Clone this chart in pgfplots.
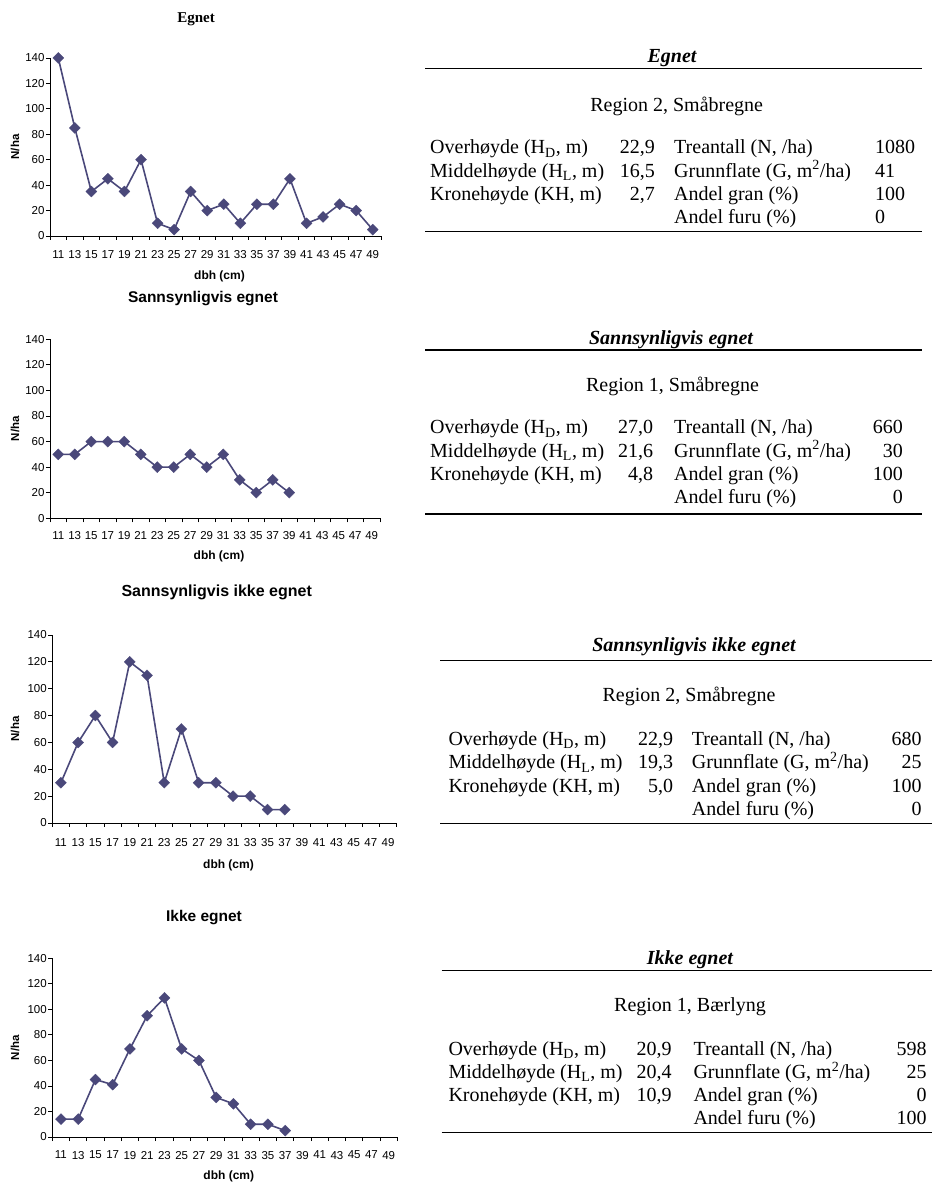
\documentclass[border=0pt]{standalone}
\usepackage{fontspec}
\setmainfont{Liberation Serif}
\newfontfamily\arial{Liberation Sans}
\usepackage{pgfplots}
\pgfplotsset{compat=1.18}
\definecolor{ser}{RGB}{74,72,122}

\pgfplotsset{
  dbhaxis/.style={
    scale only axis, axis lines=left,
    axis line style={-, line width=0.8pt, black},
    xmin=-0.5, xmax=19.5, ymin=0, ymax=140,
    xtick={0,...,19},
    xticklabels={11,13,15,17,19,21,23,25,27,29,31,33,35,37,39,41,43,45,47,49},
    minor xtick={-0.5,0.5,...,19.5},
    ytick={0,20,...,140},
    tick align=outside,
    major tick length=4pt, minor tick length=4pt,
    every tick/.style={black, line width=0.8pt},
    every major x tick/.append style={draw=none},
    /pgf/number format/assume math mode=true,
    tick label style={font=\arial\fontsize{11.5}{12}\selectfont, text=black},
    yticklabel style={xshift=2pt},
    xlabel={dbh (cm)}, ylabel={N/ha},
    xlabel style={font=\arial\bfseries\fontsize{12}{13}\selectfont, at={(axis description cs:0.5,0)}, anchor=center, xshift=4pt},
    ylabel style={font=\arial\bfseries\fontsize{11.5}{12}\selectfont, anchor=center, rotate=0},
    clip=false,
  },
  ser/.style={color=ser, line width=1.6pt, mark=square*, mark size=3.9pt,
    mark options={rotate=45, fill=ser, draw=ser, line width=0.3pt}},
}

\begin{document}
\begin{tikzpicture}[x=1pt,y=1pt]
\useasboundingbox (0,0) rectangle (932,1184);

% ---------- Panel 1 ----------
\begin{axis}[dbhaxis, at={(50pt,948pt)}, anchor=south west, width=331pt, height=178pt,
  xticklabel style={yshift=-7pt},
  xlabel style={yshift=-40pt},
  ylabel style={at={(axis description cs:-0.1057,0.5)}}]
\addplot[ser] coordinates {(0,140) (1,85) (2,35) (3,45) (4,35) (5,60) (6,10) (7,5) (8,35) (9,20) (10,25) (11,10) (12,25) (13,25) (14,45) (15,10) (16,15) (17,25) (18,20) (19,5)};
\end{axis}
\node[font=\bfseries\fontsize{15}{16}\selectfont] at (196,1165) {Egnet};

% ---------- Panel 2 ----------
\begin{axis}[dbhaxis, at={(50pt,665.7pt)}, anchor=south west, width=330pt, height=179pt,
  xticklabel style={yshift=-6pt},
  xlabel style={yshift=-38.4pt},
  ylabel style={at={(axis description cs:-0.106,0.5)}}]
\addplot[ser] coordinates {(0,50) (1,50) (2,60) (3,60) (4,60) (5,50) (6,40) (7,40) (8,50) (9,40) (10,50) (11,30) (12,20) (13,30) (14,20)};
\end{axis}
\node[font=\arial\bfseries\fontsize{15.5}{16}\selectfont] at (203,885) {Sannsynligvis egnet};

% ---------- Panel 3 ----------
\begin{axis}[dbhaxis, at={(52.3pt,361pt)}, anchor=south west, width=344.4pt, height=188pt,
  xticklabel style={yshift=-8pt},
  xlabel style={yshift=-42.7pt},
  ylabel style={at={(axis description cs:-0.1084,0.5)}}]
\addplot[ser] coordinates {(0,30) (1,60) (2,80) (3,60) (4,120) (5,110) (6,30) (7,70) (8,30) (9,30) (10,20) (11,20) (12,10) (13,10)};
\end{axis}
\node[font=\arial\bfseries\fontsize{16}{17}\selectfont] at (216.7,592) {Sannsynligvis ikke egnet};

% ---------- Panel 4 ----------
\begin{axis}[dbhaxis, at={(52.3pt,47pt)}, anchor=south west, width=345pt, height=178.7pt,
  xticklabel style={yshift=-6.5pt},
  xlabel style={yshift=-39pt},
  ylabel style={at={(axis description cs:-0.1081,0.5)}}]
\addplot[ser] coordinates {(0,14) (1,14) (2,45) (3,41) (4,69) (5,95) (6,109) (7,69) (8,60) (9,31) (10,26) (11,10) (12,10) (13,5)};
\end{axis}
\node[font=\arial\bfseries\fontsize{15.5}{16}\selectfont] at (204,266) {Ikke egnet};

% ---------- Tables ----------
\tikzset{tt/.style={font=\fontsize{20}{24}\selectfont, inner sep=0pt},
  L/.style={tt, anchor=mid west}, R/.style={tt, anchor=mid east}}

% Table 1
\node[tt, font=\fontsize{20}{24}\selectfont\bfseries\itshape] at (672,1126) {Egnet};
\draw[line width=1.2pt] (425,1115.7) -- (921.5,1115.7);
\node[tt] at (676.7,1077.3) {Region 2, Småbregne};
\node[L] at (430,1032.3) {Overhøyde (H\textsubscript{D}, m)};
\node[L] at (430,1009) {Middelhøyde (H\textsubscript{L}, m)};
\node[L] at (430,985.7) {Kronehøyde (KH, m)};
\node[R] at (655,1032.3) {22,9};
\node[R] at (655,1009) {16,5};
\node[R] at (655,985.7) {2,7};
\node[L] at (674,1032.3) {Treantall (N, /ha)};
\node[L] at (674,1009) {Grunnflate (G, m\textsuperscript{2}/ha)};
\node[L] at (674,985.7) {Andel gran (\%)};
\node[L] at (674,962.4) {Andel furu (\%)};
\node[L] at (875,1032.3) {1080};
\node[L] at (875,1009) {41};
\node[L] at (875,985.7) {100};
\node[L] at (875,962.4) {0};
\draw[line width=1.2pt] (425,952.3) -- (921.5,952.3);

% Table 2
\node[tt, font=\fontsize{20}{24}\selectfont\bfseries\itshape] at (671,844) {Sannsynligvis egnet};
\draw[line width=1.2pt] (425,834) -- (921.5,834);
\node[tt] at (672.5,797.3) {Region 1, Småbregne};
\node[L] at (430,752.3) {Overhøyde (H\textsubscript{D}, m)};
\node[L] at (430,729) {Middelhøyde (H\textsubscript{L}, m)};
\node[L] at (430,705.7) {Kronehøyde (KH, m)};
\node[R] at (653.3,752.3) {27,0};
\node[R] at (653.3,729) {21,6};
\node[R] at (653.3,705.7) {4,8};
\node[L] at (674,752.3) {Treantall (N, /ha)};
\node[L] at (674,729) {Grunnflate (G, m\textsuperscript{2}/ha)};
\node[L] at (674,705.7) {Andel gran (\%)};
\node[L] at (674,682.4) {Andel furu (\%)};
\node[R] at (903,752.3) {660};
\node[R] at (903,729) {30};
\node[R] at (903,705.7) {100};
\node[R] at (903,682.4) {0};
\draw[line width=1.2pt] (425,670) -- (921.5,670);

% Table 3
\node[tt, font=\fontsize{20}{24}\selectfont\bfseries\itshape] at (694,537.3) {Sannsynligvis ikke egnet};
\draw[line width=1.2pt] (440,523.3) -- (932,523.3);
\node[tt] at (689,487.3) {Region 2, Småbregne};
\node[L] at (448.3,440.7) {Overhøyde (H\textsubscript{D}, m)};
\node[L] at (448.3,417.4) {Middelhøyde (H\textsubscript{L}, m)};
\node[L] at (448.3,394.1) {Kronehøyde (KH, m)};
\node[R] at (673.3,440.7) {22,9};
\node[R] at (673.3,417.4) {19,3};
\node[R] at (673.3,394.1) {5,0};
\node[L] at (691.7,440.7) {Treantall (N, /ha)};
\node[L] at (691.7,417.4) {Grunnflate (G, m\textsuperscript{2}/ha)};
\node[L] at (691.7,394.1) {Andel gran (\%)};
\node[L] at (691.7,370.8) {Andel furu (\%)};
\node[R] at (921.7,440.7) {680};
\node[R] at (921.7,417.4) {25};
\node[R] at (921.7,394.1) {100};
\node[R] at (921.7,370.8) {0};
\draw[line width=1.2pt] (440,360.7) -- (932,360.7);

% Table 4
\node[tt, font=\fontsize{20}{24}\selectfont\bfseries\itshape] at (690,224.7) {Ikke egnet};
\draw[line width=1.2pt] (441.7,213.3) -- (932,213.3);
\node[tt] at (690,177.3) {Region 1, Bærlyng};
\node[L] at (448.3,130.7) {Overhøyde (H\textsubscript{D}, m)};
\node[L] at (448.3,107.7) {Middelhøyde (H\textsubscript{L}, m)};
\node[L] at (448.3,84.7) {Kronehøyde (KH, m)};
\node[R] at (671.7,130.7) {20,9};
\node[R] at (671.7,107.7) {20,4};
\node[R] at (671.7,84.7) {10,9};
\node[L] at (693.3,130.7) {Treantall (N, /ha)};
\node[L] at (693.3,107.7) {Grunnflate (G, m\textsuperscript{2}/ha)};
\node[L] at (693.3,84.7) {Andel gran (\%)};
\node[L] at (693.3,61.7) {Andel furu (\%)};
\node[R] at (926.7,130.7) {598};
\node[R] at (926.7,107.7) {25};
\node[R] at (926.7,84.7) {0};
\node[R] at (926.7,61.7) {100};
\draw[line width=1.2pt] (441.7,51.3) -- (932,51.3);
\end{tikzpicture}
\end{document}
